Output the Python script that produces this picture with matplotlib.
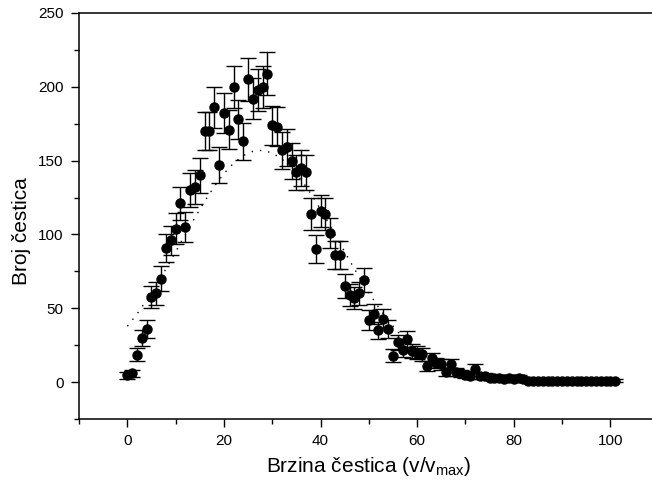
import numpy as np
import matplotlib
matplotlib.use("Agg")
import matplotlib.pyplot as plt
from matplotlib.ticker import MultipleLocator

plt.rcParams['font.family'] = ['Liberation Sans', 'DejaVu Sans']
plt.rcParams['mathtext.fontset'] = 'custom'
plt.rcParams['mathtext.rm'] = 'Liberation Sans'

# measured counts vs speed
speed = list(range(0, 102))
counts = [4.5, 6, 18.5, 30, 36, 57.5, 60, 70, 91, 96,
          104, 121, 105, 130, 132, 140, 170, 170, 186, 147,
          182, 171, 200, 178, 163, 205, 192, 198, 200, 209,
          174, 173, 157, 159, 150, 142, 145, 142, 114, 90,
          116, 114, 101, 86, 86, 65, 59, 57, 60, 69,
          42, 46, 35, 43, 36, 18, 27, 22, 29, 21,
          20, 19, 11, 16, 13, 12, 7, 12, 7, 6,
          5, 4, 9, 4, 4, 3, 3, 3, 2, 3,
          2, 3, 2, 1, 1, 1, 1, 1, 1, 1,
          1, 1, 1, 1, 1, 1, 1, 1, 1, 1,
          1, 1]
errors = [2.1, 2.4, 4.3, 5.5, 6, 7.6, 7.7, 8.4, 9.5, 9.8,
          10.2, 11, 10.2, 11.4, 11.5, 11.8, 13, 13, 13.6, 12.1,
          13.5, 13.1, 14.1, 13.3, 12.8, 14.3, 13.9, 14.1, 14.1, 14.5,
          13.2, 13.2, 12.5, 12.6, 12.2, 11.9, 12, 11.9, 10.7, 9.5,
          10.8, 10.7, 10, 9.3, 9.3, 8.1, 7.7, 7.5, 7.7, 8.3,
          6.5, 6.8, 5.9, 6.6, 6, 4.2, 5.2, 4.7, 5.4, 4.6,
          4.5, 4.4, 3.3, 4, 3.6, 3.5, 2.6, 3.5, 2.6, 2.4,
          2.2, 2, 3, 2, 2, 1.7, 1.7, 1.7, 1.4, 1.7,
          1.4, 1.7, 1.4, 1, 1, 1, 1, 1, 1, 1,
          1, 1, 1, 1, 1, 1, 1, 1, 1, 1,
          1, 1]

# dotted fit curve
fit_x = [0, 2, 4, 6, 8, 10, 12, 14, 16, 18, 20, 22, 24, 26, 28, 30,
         32, 34, 36, 38, 40, 42, 44, 46, 48, 50, 52, 54, 56, 58, 60,
         62, 64, 66, 68, 70, 72, 74, 76, 78, 80, 84, 88, 92, 96, 101]
fit_y = [37.8, 46.1, 55.5, 65.7, 76.7, 88.2, 99.9, 111.4, 122.4, 132.5,
         141.2, 148.3, 153.4, 156.3, 157, 155.2, 151.1, 145, 137, 127.6,
         117, 105.7, 94, 82.4, 71.2, 60.5, 50.7, 41.8, 34, 27.2, 21.5,
         16.7, 12.8, 9.6, 7.1, 5.2, 3.8, 2.7, 1.9, 1.3, 0.9, 0.4, 0.2,
         0.1, 0.1, 0.1]

fig = plt.figure(figsize=(6.52, 4.92), dpi=100)
ax = fig.add_axes([0.1212, 0.1484, 0.889, 0.8252])

ax.plot(fit_x, fit_y, color='black', linestyle=(0, (1, 5)), lw=1.0)
ax.errorbar(speed, counts, yerr=errors, fmt='o', color='black', ms=6.5,
            capsize=5.5, elinewidth=1.0, capthick=1.0)

ax.set_xlim(-10, 110)
ax.set_ylim(-25, 250)
ax.xaxis.set_major_locator(MultipleLocator(20))
ax.xaxis.set_minor_locator(MultipleLocator(10))
ax.yaxis.set_major_locator(MultipleLocator(50))
ax.yaxis.set_minor_locator(MultipleLocator(25))
ax.tick_params(which='major', direction='out', length=6, width=1, labelsize=11, pad=5)
ax.tick_params(which='minor', direction='out', length=3.5, width=1)
for s in ax.spines.values():
    s.set_linewidth(1.1)

ax.set_xlabel('Brzina čestica (v/v$_{\\mathrm{max}}$)', fontsize=15, labelpad=5)
ax.set_ylabel('Broj čestica', fontsize=15)
ax.yaxis.set_label_coords(-0.082, 0.463)

fig.savefig('out.png', dpi=100)
